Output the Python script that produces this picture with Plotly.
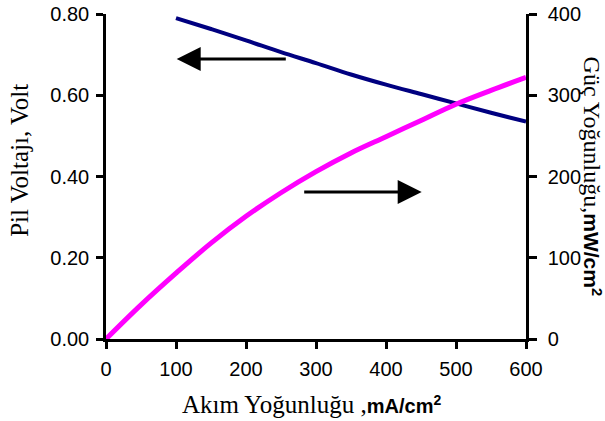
import plotly.graph_objects as go

# Current density (mA/cm2) and measured cell voltage (V)
current_v = [100, 150, 200, 250, 300, 350, 400, 450, 500, 550, 600]
voltage = [0.790, 0.763, 0.735, 0.706, 0.679, 0.651, 0.626, 0.603, 0.580, 0.557, 0.535]

# Current density (mA/cm2) and power density (mW/cm2)
current_p = [0, 50, 100, 150, 200, 250, 300, 350, 400, 450, 500, 550, 600]
power = [0, 42, 81, 118, 151, 180, 206, 229, 249, 269, 289, 306, 322]

x_ticks = [0, 100, 200, 300, 400, 500, 600]
v_ticks = [0.0, 0.2, 0.4, 0.6, 0.8]
p_ticks = [0, 100, 200, 300, 400]

SERIF = "Liberation Serif, Times New Roman, serif"
SANS = "Liberation Sans, Arial, sans-serif"

fig = go.Figure()
fig.add_trace(go.Scatter(
    x=current_v, y=voltage, mode="lines", line=dict(color="#000080", width=4, shape="spline"),
    yaxis="y", showlegend=False,
))
fig.add_trace(go.Scatter(
    x=current_p, y=power, mode="lines", line=dict(color="#FF00FF", width=5, shape="spline"),
    yaxis="y2", showlegend=False,
))

axis_common = dict(showgrid=False, zeroline=False, showline=True, linecolor="black",
                   linewidth=2.5, tickcolor="black", tickwidth=2.5, automargin=False,
                   tickfont=dict(family=SANS, size=20, color="black"))

fig.update_layout(
    width=605, height=421,
    margin=dict(l=106, r=79, t=14, b=82),
    paper_bgcolor="white", plot_bgcolor="white",
    xaxis=dict(range=[0, 600], tickvals=x_ticks, ticks="outside", ticklen=7,
               ticklabelstandoff=3, **axis_common),
    yaxis=dict(range=[0, 0.8], tickvals=v_ticks, tickformat=".2f", ticks="outside",
               ticklen=7, ticklabelstandoff=3, **axis_common),
    yaxis2=dict(range=[0, 400], tickvals=p_ticks, overlaying="y", side="right", anchor="x",
                ticks="outside", ticklen=8, ticklabelstandoff=7, **axis_common),
    yaxis3=dict(range=[0, 400], tickvals=p_ticks, overlaying="y", side="right", anchor="x",
                ticks="inside", ticklen=8, showticklabels=False, showgrid=False,
                zeroline=False, showline=False, tickcolor="black", tickwidth=2.5,
                automargin=False),
)

# Axis titles (serif words, bold sans units)
fig.add_annotation(
    text="Pil Voltajı, Volt", xref="paper", yref="paper", x=-0.205, y=0.551,
    textangle=-90, showarrow=False, xanchor="center", yanchor="middle",
    font=dict(family=SERIF, size=25, color="black"),
)
fig.add_annotation(
    text=f"Güç Yoğunluğu,<span style='font-family:{SANS};font-size:21px'><b>mW/cm<sup>2</sup></b></span>",
    xref="paper", yref="paper", x=1.157, y=0.50,
    textangle=90, showarrow=False, xanchor="center", yanchor="middle",
    font=dict(family=SERIF, size=24, color="black"),
)
fig.add_annotation(
    text=f"Akım Yoğunluğu ,<span style='font-family:{SANS};font-size:20px'><b>mA/cm<sup>2</sup></b></span>",
    xref="paper", yref="paper", x=0.49, y=-0.203,
    showarrow=False, xanchor="center", yanchor="middle",
    font=dict(family=SERIF, size=25, color="black"),
)

# Arrows pointing to the axis each curve belongs to
fig.add_annotation(
    x=101, y=0.689, ax=259, ay=0.689, xref="x", yref="y", axref="x", ayref="y",
    text="", showarrow=True, arrowhead=2, arrowsize=1.6, arrowwidth=3, arrowcolor="black",
)
fig.add_annotation(
    x=451, y=181, ax=281, ay=181, xref="x", yref="y2", axref="x", ayref="y2",
    text="", showarrow=True, arrowhead=2, arrowsize=1.6, arrowwidth=3, arrowcolor="black",
)

fig.write_html("out.html")
